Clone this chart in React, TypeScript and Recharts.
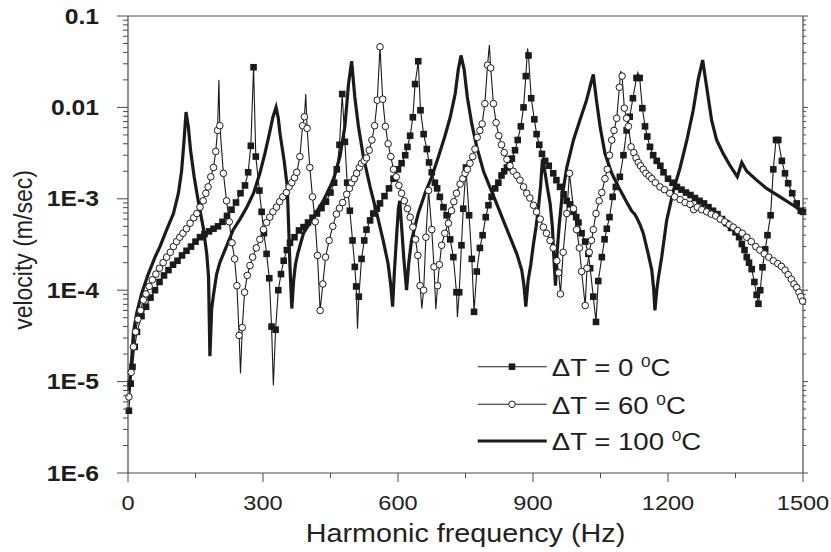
import { LineChart, Line, XAxis, YAxis, Legend } from 'recharts'

const INK = '#1b1b1b'
const AXIS = '#4a4a4a'
const FONT = '"Liberation Sans", Arial, Helvetica, sans-serif'
const SX = 1.15 // the type in the figure is stretched sideways

const xMajor = [0, 300, 600, 900, 1200, 1500]
const xMinor = [150, 450, 750, 1050, 1350]
const yDecades = [1e-6, 1e-5, 1e-4, 1e-3, 1e-2, 1e-1]
const yDecadeLabels = ['1E-6', '1E-5', '1E-4', '1E-3', '0.01', '0.1']
const yMinorSteps = [2, 3, 4, 5, 6, 7, 8, 9]
const legendTemps = ['0', '60', '100']

// [frequency Hz, velocity m/s]
const dT0: [number, number][] = [
  [2, 4.8e-6], [6, 9.5e-6], [10, 1.45e-5], [15, 2.4e-5], [20, 3.5e-5], [30, 5.2e-5], [40, 6.6e-5],
  [50, 8.3e-5], [60, 1.0e-4], [70, 1.23e-4], [80, 1.45e-4], [90, 1.66e-4], [100, 1.9e-4], [110, 2.1e-4],
  [120, 2.4e-4], [130, 2.7e-4], [140, 3.0e-4], [150, 3.4e-4], [160, 3.8e-4], [170, 4.1e-4], [180, 4.4e-4],
  [190, 4.7e-4], [200, 5.0e-4], [210, 5.6e-4], [220, 6.5e-4], [230, 7.6e-4], [240, 9.1e-4], [250, 1.15e-3],
  [260, 1.4e-3], [267, 1.95e-3], [273, 3.8e-3], [279, 2.75e-2], [284, 2.9e-3], [292, 1.23e-3], [297, 7.2e-4],
  [302, 4.2e-4], [308, 2.5e-4], [314, 1.35e-4], [319, 4.0e-5], [328, 3.7e-5], [334, 1.0e-4], [340, 1.5e-4],
  [346, 2.1e-4], [353, 2.75e-4], [360, 3.3e-4], [370, 3.8e-4], [380, 4.5e-4], [390, 4.9e-4], [400, 5.5e-4],
  [410, 6.2e-4], [420, 6.9e-4], [430, 7.9e-4], [440, 9.3e-4], [450, 1.17e-3], [458, 1.5e-3], [464, 2.1e-3],
  [470, 3.9e-3], [476, 1.4e-2], [482, 4.2e-3], [487, 1.5e-3], [493, 7.4e-4], [499, 3.5e-4], [504, 1.8e-4],
  [507, 1.1e-4], [513, 8.5e-5], [519, 2.2e-4], [525, 3.5e-4], [530, 4.6e-4], [538, 5.8e-4], [545, 6.9e-4],
  [553, 7.8e-4], [560, 8.9e-4], [570, 1.07e-3], [580, 1.3e-3], [590, 1.66e-3], [600, 2.1e-3], [608, 2.45e-3],
  [616, 3.0e-3], [621, 3.7e-3], [627, 4.9e-3], [633, 7.8e-3], [638, 1.8e-2], [645, 3.2e-2], [650, 9.3e-3],
  [657, 5.1e-3], [664, 3.5e-3], [669, 2.5e-3], [675, 1.95e-3], [682, 1.5e-3], [687, 1.3e-3], [693, 1.05e-3],
  [701, 8.1e-4], [708, 6.6e-4], [716, 3.6e-4], [723, 2.3e-4], [730, 9.5e-5], [736, 9.5e-5], [741, 3.1e-4],
  [745, 7.8e-4], [751, 2.2e-3], [758, 6.6e-4], [764, 2.2e-4], [769, 5.8e-5], [775, 1.6e-4], [782, 2.9e-4],
  [788, 4.0e-4], [795, 6.3e-4], [801, 8.5e-4], [808, 1.05e-3], [816, 1.3e-3], [823, 1.5e-3], [830, 1.8e-3],
  [836, 2.0e-3], [842, 2.2e-3], [848, 2.5e-3], [853, 2.75e-3], [860, 3.4e-3], [866, 4.4e-3], [873, 6.2e-3],
  [879, 1.0e-2], [884, 2.2e-2], [890, 3.7e-2], [896, 1.26e-2], [903, 7.4e-3], [908, 5.1e-3], [914, 3.9e-3],
  [920, 3.1e-3], [927, 2.6e-3], [935, 2.3e-3], [945, 1.9e-3], [952, 1.6e-3], [960, 1.35e-3], [968, 1.12e-3],
  [975, 9.5e-4], [982, 8.7e-4], [990, 7.2e-4], [996, 6.3e-4], [1001, 5.5e-4], [1008, 4.2e-4], [1016, 3.4e-4],
  [1023, 2.5e-4], [1027, 1.74e-4], [1034, 8.5e-5], [1040, 4.5e-5], [1045, 1.26e-4], [1053, 2.3e-4],
  [1059, 3.6e-4], [1064, 4.7e-4], [1070, 6.3e-4], [1077, 1.05e-3], [1084, 1.35e-3], [1093, 1.74e-3],
  [1101, 3.0e-3], [1108, 5.6e-3], [1115, 7.9e-3], [1122, 1.26e-2], [1130, 2.1e-2], [1137, 2.1e-2],
  [1143, 9.8e-3], [1149, 6.2e-3], [1154, 4.8e-3], [1160, 3.7e-3], [1167, 3.0e-3], [1175, 2.6e-3],
  [1183, 2.3e-3], [1190, 1.95e-3], [1200, 1.66e-3], [1210, 1.5e-3], [1220, 1.35e-3], [1230, 1.26e-3],
  [1240, 1.17e-3], [1250, 1.1e-3], [1260, 1.02e-3], [1270, 9.5e-4], [1280, 8.9e-4], [1290, 8.1e-4],
  [1300, 7.4e-4], [1310, 6.8e-4], [1320, 6.0e-4], [1330, 5.4e-4], [1340, 4.8e-4], [1350, 4.3e-4],
  [1358, 3.8e-4], [1364, 3.2e-4], [1370, 2.75e-4], [1375, 2.3e-4], [1380, 2.0e-4], [1386, 1.7e-4],
  [1392, 1.23e-4], [1397, 8.9e-5], [1401, 7.1e-5], [1405, 1.0e-4], [1410, 1.78e-4], [1416, 2.8e-4],
  [1421, 4.0e-4], [1428, 6.6e-4], [1434, 2.1e-3], [1440, 4.4e-3], [1445, 4.4e-3], [1453, 2.6e-3],
  [1460, 1.9e-3], [1467, 1.48e-3], [1476, 1.15e-3], [1486, 8.9e-4], [1495, 7.4e-4], [1500, 7.2e-4],
]
// line-only points where the curve runs past its markers
const dT0Tips: [number, number][] = [
  [323, 9.1e-6], [510, 3.8e-5], [732, 5.1e-5], [888, 4.4e-2], [1133, 2.4e-2],
]

const dT60: [number, number][] = [
  [2, 6.8e-6], [7, 1.26e-5], [12, 2.4e-5], [17, 3.5e-5], [22, 4.8e-5], [28, 6.0e-5], [34, 7.8e-5],
  [40, 9.1e-5], [47, 1.1e-4], [54, 1.3e-4], [62, 1.5e-4], [70, 1.74e-4], [78, 2.0e-4], [86, 2.3e-4],
  [94, 2.6e-4], [101, 3.0e-4], [108, 3.4e-4], [115, 3.8e-4], [122, 4.2e-4], [130, 4.7e-4], [138, 5.4e-4],
  [146, 6.2e-4], [153, 6.9e-4], [160, 8.1e-4], [167, 9.5e-4], [173, 1.15e-3], [178, 1.35e-3], [184, 1.74e-3],
  [190, 2.2e-3], [195, 3.3e-3], [199, 5.6e-3], [204, 6.3e-3], [212, 1.9e-3], [219, 9.5e-4], [225, 5.6e-4],
  [231, 3.3e-4], [237, 2.2e-4], [242, 1.12e-4], [247, 3.2e-5], [254, 3.9e-5], [259, 9.5e-5], [265, 1.45e-4],
  [271, 1.86e-4], [277, 2.3e-4], [285, 2.9e-4], [293, 3.6e-4], [301, 4.6e-4], [308, 5.5e-4], [315, 6.3e-4],
  [322, 7.2e-4], [330, 8.1e-4], [337, 9.3e-4], [344, 1.05e-3], [352, 1.17e-3], [358, 1.35e-3], [364, 1.5e-3],
  [370, 1.7e-3], [375, 1.95e-3], [382, 2.9e-3], [388, 6.3e-3], [392, 7.9e-3], [398, 5.9e-3], [404, 2.2e-3],
  [410, 1.05e-3], [416, 5.6e-4], [421, 2.4e-4], [427, 6.0e-5], [433, 1.17e-4], [439, 2.3e-4], [447, 3.5e-4],
  [455, 5.0e-4], [463, 6.8e-4], [470, 7.9e-4], [477, 9.1e-4], [486, 1.12e-3], [492, 1.3e-3], [497, 1.5e-3],
  [503, 1.66e-3], [508, 1.9e-3], [514, 2.2e-3], [519, 2.45e-3], [525, 2.6e-3], [530, 2.8e-3], [536, 3.4e-3],
  [542, 4.4e-3], [548, 6.3e-3], [554, 1.2e-2], [560, 4.6e-2], [566, 1.23e-2], [572, 6.2e-3], [578, 4.0e-3],
  [584, 2.9e-3], [590, 2.1e-3], [596, 1.74e-3], [602, 1.4e-3], [608, 1.15e-3], [614, 9.5e-4], [621, 7.8e-4],
  [627, 6.3e-4], [633, 4.9e-4], [639, 3.6e-4], [644, 2.4e-4], [649, 1.12e-4], [657, 1.0e-4], [662, 3.8e-4],
  [668, 1.23e-3], [675, 4.6e-4], [680, 1.8e-4], [688, 1.12e-4], [692, 1.9e-4], [697, 3.1e-4], [704, 4.2e-4],
  [712, 5.4e-4], [719, 7.4e-4], [724, 9.3e-4], [730, 1.15e-3], [738, 1.45e-3], [744, 1.66e-3], [749, 1.9e-3],
  [754, 2.1e-3], [760, 2.45e-3], [766, 2.9e-3], [771, 3.5e-3], [776, 4.7e-3], [782, 5.6e-3], [787, 6.6e-3],
  [793, 1.1e-2], [799, 2.9e-2], [806, 2.7e-2], [812, 1.1e-2], [818, 6.8e-3], [824, 4.9e-3], [830, 3.9e-3],
  [836, 3.2e-3], [842, 2.7e-3], [849, 2.3e-3], [856, 2.0e-3], [864, 1.8e-3], [871, 1.6e-3], [879, 1.35e-3],
  [886, 1.15e-3], [893, 1.02e-3], [901, 8.5e-4], [908, 7.2e-4], [916, 6.0e-4], [923, 4.9e-4], [930, 4.2e-4],
  [938, 3.5e-4], [945, 2.9e-4], [953, 2.1e-4], [957, 1.55e-4], [961, 9.1e-5], [967, 2.6e-4], [975, 6.9e-4],
  [981, 1.9e-3], [990, 7.8e-4], [997, 4.6e-4], [1003, 2.9e-4], [1008, 1.6e-4], [1016, 6.8e-5], [1020, 1.74e-4],
  [1025, 2.6e-4], [1030, 3.5e-4], [1034, 4.6e-4], [1040, 6.9e-4], [1047, 9.5e-4], [1053, 1.17e-3],
  [1060, 1.66e-3], [1065, 2.1e-3], [1070, 3.0e-3], [1075, 4.4e-3], [1080, 5.6e-3], [1086, 7.6e-3],
  [1092, 1.66e-2], [1098, 2.2e-2], [1103, 9.8e-3], [1108, 7.6e-3], [1112, 6.2e-3], [1118, 3.7e-3],
  [1124, 3.2e-3], [1129, 2.8e-3], [1134, 2.5e-3], [1139, 2.3e-3], [1145, 2.1e-3], [1151, 1.9e-3],
  [1158, 1.78e-3], [1164, 1.66e-3], [1172, 1.5e-3], [1182, 1.35e-3], [1192, 1.26e-3], [1204, 1.15e-3],
  [1215, 1.05e-3], [1227, 9.8e-4], [1238, 9.1e-4], [1249, 8.7e-4], [1257, 7.6e-4], [1265, 8.1e-4],
  [1275, 7.6e-4], [1286, 7.2e-4], [1296, 6.8e-4], [1306, 6.5e-4], [1316, 6.0e-4], [1326, 5.6e-4],
  [1336, 5.2e-4], [1345, 4.9e-4], [1355, 4.5e-4], [1365, 4.2e-4], [1375, 3.8e-4], [1385, 3.4e-4],
  [1395, 3.0e-4], [1404, 2.75e-4], [1414, 2.5e-4], [1424, 2.3e-4], [1434, 2.1e-4], [1444, 1.95e-4],
  [1452, 1.82e-4], [1460, 1.66e-4], [1467, 1.48e-4], [1474, 1.32e-4], [1480, 1.17e-4], [1486, 1.07e-4],
  [1491, 9.5e-5], [1495, 8.5e-5], [1499, 7.6e-5],
]
const dT60Tips: [number, number][] = [
  [202, 2.0e-2], [250, 1.23e-5], [395, 1.4e-2], [653, 6.3e-5], [684, 6.2e-5], [803, 4.8e-2], [1095, 2.5e-2],
]

const dT100: [number, number][] = [
  [2, 7.9e-6], [8, 1.7e-5], [12, 3.4e-5], [19, 5.5e-5], [30, 9.1e-5], [45, 1.5e-4], [60, 2.3e-4], [71, 3.0e-4],
  [86, 4.6e-4], [101, 6.9e-4], [112, 1.15e-3], [119, 2.0e-3], [124, 4.0e-3], [129, 8.9e-3], [134, 6.2e-3],
  [139, 3.4e-3], [147, 1.74e-3], [156, 9.5e-4], [167, 4.9e-4], [175, 2.5e-4], [179, 1.4e-4], [182, 1.9e-5],
  [186, 6.3e-5], [190, 8.9e-5], [197, 1.5e-4], [204, 2.0e-4], [216, 2.8e-4], [234, 4.6e-4], [249, 6.0e-4],
  [264, 8.1e-4], [279, 1.15e-3], [293, 1.9e-3], [304, 3.1e-3], [314, 5.1e-3], [322, 7.8e-3], [329, 1.0e-2],
  [334, 7.6e-3], [338, 5.1e-3], [347, 2.6e-3], [354, 1.35e-3], [357, 5.0e-4], [360, 1.8e-4], [364, 6.3e-5],
  [368, 1.26e-4], [372, 1.9e-4], [378, 2.6e-4], [390, 4.2e-4], [412, 6.3e-4], [434, 9.5e-4], [456, 1.6e-3],
  [471, 2.9e-3], [482, 6.2e-3], [490, 1.8e-2], [497, 3.2e-2], [504, 1.3e-2], [512, 6.2e-3], [523, 2.9e-3],
  [538, 1.35e-3], [553, 6.9e-4], [567, 3.5e-4], [578, 1.95e-4], [584, 1.12e-4], [588, 6.6e-5], [592, 1.6e-4],
  [597, 4.0e-4], [601, 7.9e-4], [604, 9.5e-4], [608, 5.0e-4], [613, 2.2e-4], [619, 1.0e-4], [624, 2.0e-4],
  [630, 3.5e-4], [645, 6.9e-4], [660, 1.15e-3], [675, 1.74e-3], [690, 2.9e-3], [704, 4.8e-3], [716, 7.8e-3],
  [727, 1.4e-2], [734, 2.6e-2], [740, 3.7e-2], [747, 2.6e-2], [754, 1.3e-2], [764, 6.6e-3], [775, 3.7e-3],
  [790, 2.0e-3], [804, 1.35e-3], [819, 8.9e-4], [834, 5.8e-4], [849, 3.8e-4], [864, 2.5e-4], [875, 1.66e-4],
  [880, 1.12e-4], [884, 6.6e-5], [889, 1.26e-4], [895, 1.9e-4], [901, 3.2e-4], [907, 5.0e-4], [912, 7.9e-4],
  [917, 1.4e-3], [921, 2.7e-3], [927, 1.9e-3], [932, 1.32e-3], [938, 8.9e-4], [943, 5.0e-4], [947, 2.0e-4],
  [950, 1.12e-4], [954, 2.8e-4], [958, 5.0e-4], [964, 1.0e-3], [975, 2.2e-3], [990, 4.4e-3], [1004, 7.2e-3],
  [1019, 1.2e-2], [1028, 1.78e-2], [1034, 2.3e-2], [1041, 1.2e-2], [1049, 6.2e-3], [1060, 3.1e-3],
  [1075, 1.9e-3], [1090, 1.35e-3], [1104, 1.0e-3], [1119, 7.4e-4], [1126, 6.8e-4], [1130, 6.3e-4],
  [1138, 5.2e-4], [1145, 4.2e-4], [1156, 2.5e-4], [1164, 1.66e-4], [1168, 1.05e-4], [1171, 6.0e-5],
  [1175, 1.0e-4], [1179, 1.4e-4], [1186, 2.3e-4], [1197, 5.8e-4], [1212, 1.23e-3], [1227, 2.2e-3],
  [1242, 4.4e-3], [1256, 9.3e-3], [1267, 2.0e-2], [1277, 3.3e-2], [1286, 1.66e-2], [1297, 7.2e-3],
  [1308, 4.4e-3], [1323, 3.1e-3], [1338, 2.3e-3], [1354, 1.74e-3], [1364, 2.5e-3], [1375, 2.0e-3],
  [1397, 1.6e-3], [1419, 1.3e-3], [1449, 1.05e-3], [1478, 8.5e-4], [1500, 7.2e-4],
]

type Pt = { f: number; v: number; tip: boolean }

function build(marks: [number, number][], tips: [number, number][] = []): Pt[] {
  return [
    ...marks.map(([f, v]) => ({ f, v, tip: false })),
    ...tips.map(([f, v]) => ({ f, v, tip: true })),
  ].sort((a, b) => a.f - b.f)
}

const data0 = build(dT0, dT0Tips)
const data60 = build(dT60, dT60Tips)
const data100 = build(dT100)

const xTicks = [...xMajor, ...xMinor].sort((a, b) => a - b)
const yTicks = [
  ...yDecades,
  ...yDecades.slice(0, -1).flatMap((d) => yMinorSteps.map((k) => d * k)),
].sort((a, b) => a - b)

function decadeIndex(v: number) {
  const lg = Math.log10(v)
  return Math.abs(lg - Math.round(lg)) < 1e-6 ? Math.round(lg) + 6 : -1
}

function LeftTick({ x, y, payload }: any) {
  const i = decadeIndex(payload.value)
  return (
    <g>
      <line x1={x - (i >= 0 ? 11 : 5)} x2={x} y1={y} y2={y} stroke={AXIS} strokeWidth={1} />
      {i >= 0 && (
        <text
          transform={`translate(${x - 29},${y + 7.6}) scale(${SX},1)`}
          textAnchor="end"
          fontFamily={FONT}
          fontWeight="bold"
          fontSize={21.5}
          fill="#1e1e1e"
        >
          {yDecadeLabels[i]}
        </text>
      )}
    </g>
  )
}

function RightTick({ x, y, payload }: any) {
  const major = decadeIndex(payload.value) >= 0
  return <line x1={x} x2={x + (major ? 5 : 3)} y1={y} y2={y} stroke={AXIS} strokeWidth={1} />
}

function BottomTick({ x, y, payload }: any) {
  const major = payload.value % 300 === 0
  return (
    <g>
      <line x1={x} x2={x} y1={y} y2={y + (major ? 9 : 5)} stroke={AXIS} strokeWidth={1} />
      {major && (
        <text
          transform={`translate(${x},${y + 37.4}) scale(${SX},1)`}
          textAnchor="middle"
          fontFamily={FONT}
          fontSize={20.5}
          fill="#222"
        >
          {payload.value}
        </text>
      )}
    </g>
  )
}

function TopTick({ x, y }: any) {
  return <line x1={x} x2={x} y1={y} y2={y - 3} stroke={AXIS} strokeWidth={1} />
}

function XTitle() {
  return (
    <text
      transform={`translate(465.5,542) scale(${SX},1)`}
      textAnchor="middle"
      fontFamily={FONT}
      fontSize={25}
      fill="#222"
    >
      Harmonic frequency (Hz)
    </text>
  )
}

function YTitle() {
  return (
    <text
      transform={`translate(23,250) scale(${SX},1) rotate(-90)`}
      textAnchor="middle"
      dy="0.35em"
      fontFamily={FONT}
      fontSize={23}
      fill="#222"
    >
      velocity (m/sec)
    </text>
  )
}

const squareDot = (p: any) => {
  const key = `sq${p.index}`
  if (p.payload?.tip || p.cx == null) return <g key={key} />
  return <rect key={key} x={p.cx - 3.3} y={p.cy - 3.3} width={6.6} height={6.6} fill={INK} />
}

const circleDot = (p: any) => {
  const key = `ci${p.index}`
  if (p.payload?.tip || p.cx == null) return <g key={key} />
  return <circle key={key} cx={p.cx} cy={p.cy} r={3.3} fill="#fff" stroke={INK} strokeWidth={1} />
}

function LegendBox() {
  const rows = [21.7, 59.3, 96]
  return (
    <svg width={270} height={120} style={{ display: 'block', overflow: 'visible' }}>
      {rows.map((ry, i) => (
        <g key={i}>
          <line x1={7.7} x2={76.7} y1={ry} y2={ry} stroke={INK} strokeWidth={i === 2 ? 3.2 : 1.1} />
          {i === 0 && <rect x={42 - 3.3} y={ry - 3.3} width={6.6} height={6.6} fill={INK} />}
          {i === 1 && <circle cx={42} cy={ry} r={3.3} fill="#fff" stroke={INK} strokeWidth={1} />}
          <text
            transform={`translate(81.7,${ry + 9.3}) scale(${SX},1)`}
            fontFamily={FONT}
            fontSize={24}
            fill="#1e1e1e"
          >
            {`\u0394T = ${legendTemps[i]} `}
            <tspan fontSize={15} dy={-9}>0</tspan>
            <tspan dy={9}>C</tspan>
          </text>
        </g>
      ))}
    </svg>
  )
}

export default function App() {
  return (
    <div style={{ position: 'absolute', left: 0, top: 0, width: 831, height: 552, background: '#fff' }}>
      <LineChart width={831} height={552} margin={{ top: 0, right: 0, bottom: 0, left: 0 }}>
        <XAxis
          xAxisId="bottom"
          dataKey="f"
          type="number"
          domain={[0, 1500]}
          ticks={xTicks}
          height={79}
          tickLine={false}
          tickSize={0}
          tickMargin={0}
          tick={<BottomTick />}
          axisLine={{ stroke: AXIS, strokeWidth: 1.2 }}
          interval={0}
          label={<XTitle />}
        />
        <XAxis
          xAxisId="top"
          orientation="top"
          type="number"
          domain={[0, 1500]}
          ticks={xTicks}
          height={16}
          tickLine={false}
          tickSize={0}
          tickMargin={0}
          tick={<TopTick />}
          axisLine={{ stroke: AXIS, strokeWidth: 1.2 }}
          interval={0}
        />
        <YAxis
          yAxisId="left"
          dataKey="v"
          type="number"
          scale="log"
          domain={[1e-6, 0.1]}
          allowDataOverflow
          ticks={yTicks}
          width={128}
          tickLine={false}
          tickSize={0}
          tickMargin={0}
          tick={<LeftTick />}
          axisLine={{ stroke: AXIS, strokeWidth: 1.2 }}
          interval={0}
          label={<YTitle />}
        />
        <YAxis
          yAxisId="right"
          orientation="right"
          type="number"
          scale="log"
          domain={[1e-6, 0.1]}
          allowDataOverflow
          ticks={yTicks}
          width={28}
          tickLine={false}
          tickSize={0}
          tickMargin={0}
          tick={<RightTick />}
          axisLine={{ stroke: AXIS, strokeWidth: 1.2 }}
          interval={0}
        />
        <Line
          xAxisId="bottom"
          yAxisId="left"
          data={data100}
          dataKey="v"
          type="linear"
          stroke={INK}
          strokeWidth={3.2}
          dot={false}
          activeDot={false}
          isAnimationActive={false}
        />
        <Line
          xAxisId="bottom"
          yAxisId="left"
          data={data0}
          dataKey="v"
          type="linear"
          stroke={INK}
          strokeWidth={1.1}
          dot={squareDot}
          activeDot={false}
          isAnimationActive={false}
        />
        <Line
          xAxisId="bottom"
          yAxisId="left"
          data={data60}
          dataKey="v"
          type="linear"
          stroke={INK}
          strokeWidth={1.1}
          dot={circleDot}
          activeDot={false}
          isAnimationActive={false}
        />
        <Legend
          layout="vertical"
          align="center"
          verticalAlign="middle"
          content={<LegendBox />}
          wrapperStyle={{ position: 'absolute', left: 470, top: 345, width: 270, height: 120 }}
        />
      </LineChart>
    </div>
  )
}
